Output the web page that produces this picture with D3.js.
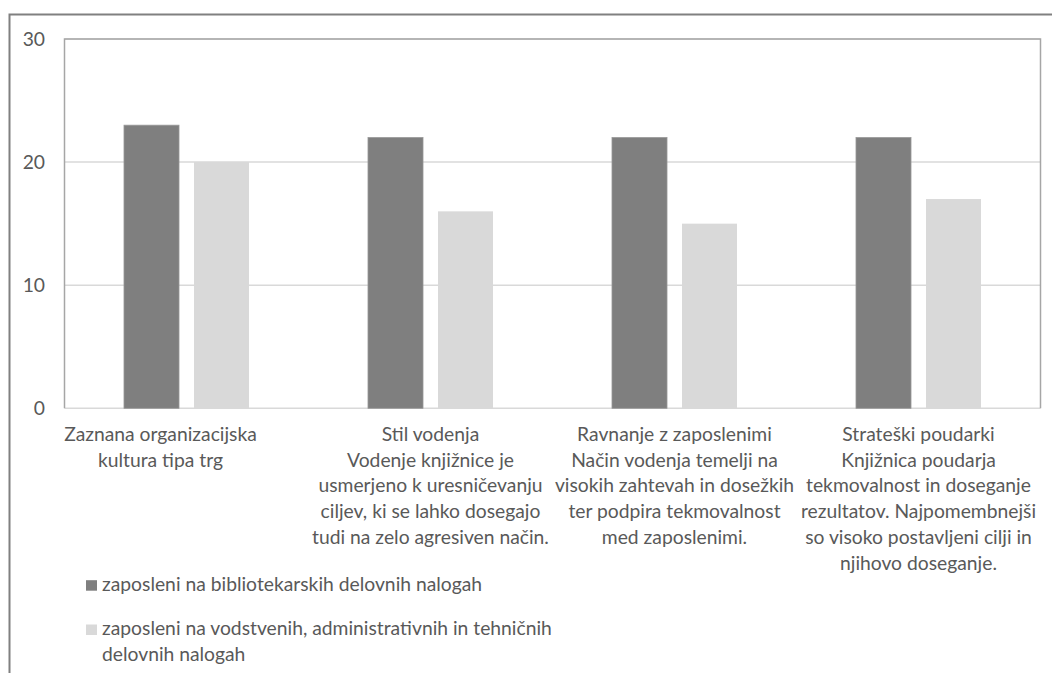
<!DOCTYPE html>
<html>
<head>
<meta charset="utf-8">
<script src="https://cdn.jsdelivr.net/npm/d3@7"></script>
<style>
  html, body { margin: 0; padding: 0; background: #fff; }
  svg { display: block; }
  text { font-family: Lato, "Open Sans", sans-serif; fill: #595959; }
</style>
</head>
<body>
<svg id="chart" width="1052" height="673"></svg>
<script>
// Categories (each entry is a list of wrapped label lines)
const categories = [
  ["Zaznana organizacijska", "kultura tipa trg"],
  ["Stil vodenja", "Vodenje knjižnice je", "usmerjeno k uresničevanju", "ciljev, ki se lahko dosegajo", "tudi na zelo agresiven način."],
  ["Ravnanje z zaposlenimi", "Način vodenja temelji na", "visokih zahtevah in dosežkih", "ter podpira tekmovalnost", "med zaposlenimi."],
  ["Strateški poudarki", "Knjižnica poudarja", "tekmovalnost in doseganje", "rezultatov. Najpomembnejši", "so visoko postavljeni cilji in", "njihovo doseganje."]
];
const seriesNames = [
  ["zaposleni na bibliotekarskih delovnih nalogah"],
  ["zaposleni na vodstvenih, administrativnih in tehničnih", "delovnih nalogah"]
];
const librarians = [23, 22, 22, 22];
const management = [20, 16, 15, 17];
const yTicks = [0, 10, 20, 30];

const colors = ["#7f7f7f", "#d9d9d9"];
const fontSize = 19.3;
const lineGap = 25.7;

const svg = d3.select("#chart");
const W = 1052, H = 673;
const plot = { left: 64.5, right: 1040.5, top: 39, bottom: 408.3 };

svg.append("rect").attr("width", W).attr("height", H).attr("fill", "#fff");

// outer frame
svg.append("path")
  .attr("d", `M9.5,${H} V14.5 H${W}`)
  .attr("fill", "none").attr("stroke", "#808080").attr("stroke-width", 2);

const x = d3.scaleBand().domain(d3.range(categories.length)).range([plot.left, plot.right]);
const seriesIdx = [0, 1];
const xs = d3.scaleBand().domain(seriesIdx).range([0, x.bandwidth()])
  .paddingInner(0.214).paddingOuter(0.85);
const y = d3.scaleLinear().domain([0, 30]).range([plot.bottom, plot.top]);

// gridlines
svg.append("g").selectAll("line").data(yTicks).join("line")
  .attr("x1", plot.left).attr("x2", plot.right)
  .attr("y1", d => y(d)).attr("y2", d => y(d))
  .attr("stroke", "#d9d9d9").attr("stroke-width", 1.5);

// plot area frame: top, left, right
svg.append("path")
  .attr("d", `M${plot.left},${plot.bottom} V${plot.top} H${plot.right} V${plot.bottom}`)
  .attr("fill", "none").attr("stroke", "#a6a6a6").attr("stroke-width", 1.5);

// bars
const rows = categories.map((c, i) => [librarians[i], management[i]]);
const groups = svg.append("g").selectAll("g").data(rows).join("g")
  .attr("transform", (d, i) => `translate(${x(i)},0)`);
groups.selectAll("rect").data(d => d.map((v, s) => ({ v, s }))).join("rect")
  .attr("x", d => xs(d.s))
  .attr("width", xs.bandwidth())
  .attr("y", d => y(d.v))
  .attr("height", d => y(0) - y(d.v))
  .attr("fill", d => colors[d.s])
  .attr("stroke", d => d.s === 0 ? "#999" : "none")
  .attr("stroke-width", 0.8);

// y axis labels
svg.append("g").selectAll("text").data(yTicks).join("text")
  .attr("x", 45).attr("y", d => y(d) + 6.5)
  .attr("text-anchor", "end")
  .style("font-size", fontSize + "px")
  .text(d => d);

// category labels; the first one sits a little to the left of its band
const labelShift = [-26, 0, 0, 0];
const catG = svg.append("g").selectAll("text").data(categories).join("text")
  .attr("text-anchor", "middle")
  .style("font-size", fontSize + "px");
catG.each(function (lines, i) {
  const cx = x(i) + x.bandwidth() / 2 + labelShift[i];
  d3.select(this).selectAll("tspan").data(lines).join("tspan")
    .attr("x", cx)
    .attr("y", (d, k) => 441 + k * lineGap)
    .text(d => d);
});

// legend
const legendTop = [590.7, 635];
const leg = svg.append("g").selectAll("g").data(seriesNames).join("g");
leg.append("rect")
  .attr("x", 86).attr("y", (d, i) => legendTop[i] - 10.5)
  .attr("width", 11).attr("height", 10.5)
  .attr("fill", (d, i) => colors[i]);
leg.append("text")
  .style("font-size", fontSize + "px")
  .each(function (lines, i) {
    d3.select(this).selectAll("tspan").data(lines).join("tspan")
      .attr("x", 102)
      .attr("y", (d, k) => legendTop[i] + k * lineGap)
      .text(d => d);
  });
</script>
</body>
</html>
